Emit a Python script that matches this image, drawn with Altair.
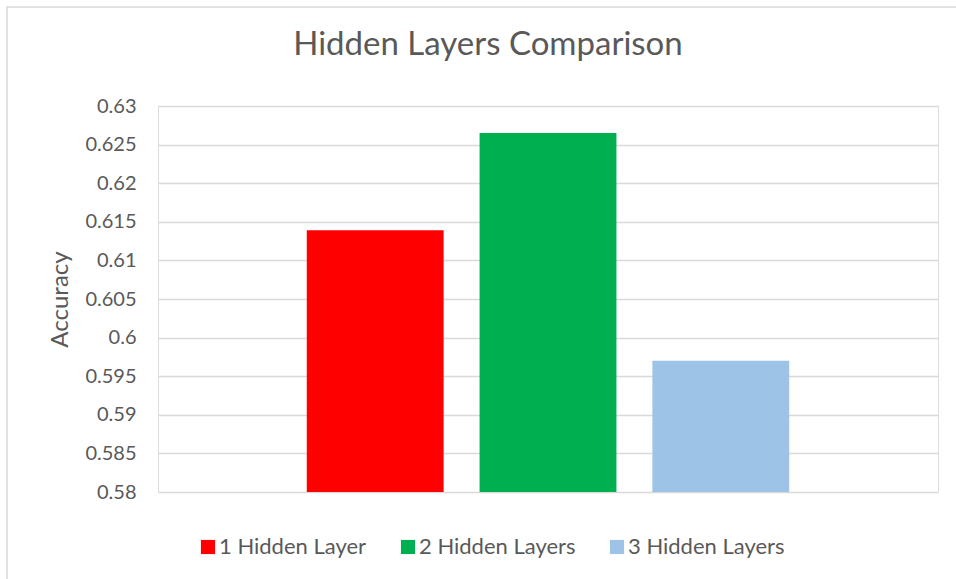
import altair as alt
import pandas as pd

series = ["1 Hidden Layer", "2 Hidden Layers", "3 Hidden Layers"]
accuracy = [0.6139, 0.6265, 0.5970]
colors = ["#FF0000", "#00B050", "#9DC3E6"]
y_ticks = [0.58, 0.585, 0.59, 0.595, 0.6, 0.605, 0.61, 0.615, 0.62, 0.625, 0.63]
title_text = "Hidden Layers Comparison"

df = pd.DataFrame({"Series": series, "Accuracy": accuracy})

FONT = "Lato"
TXT = "#595959"

bars = alt.Chart(df).mark_bar().encode(
    x=alt.X("Series:N", sort=series, axis=None,
            scale=alt.Scale(paddingInner=0.208, paddingOuter=0.861)),
    y=alt.Y("Accuracy:Q",
            scale=alt.Scale(domain=[0.58, 0.63], zero=False, nice=False, clamp=True),
            axis=alt.Axis(values=y_ticks, title="Accuracy", grid=True, gridColor="#D9D9D9",
                          gridWidth=1.3, domain=False, ticks=False, labelFont=FONT,
                          labelFontSize=20, labelColor=TXT, labelPadding=22,
                          titleFont=FONT, titleFontSize=24, titleColor=TXT,
                          titleFontWeight="normal", titlePadding=12,
                          labelExpr="format(datum.value, '.3~f')")),
    color=alt.Color("Series:N", sort=series,
                    scale=alt.Scale(domain=series, range=colors),
                    legend=alt.Legend(title=None, orient="none", direction="horizontal",
                                      legendX=39, legendY=430, symbolType="square",
                                      symbolSize=200, symbolStrokeWidth=0,
                                      labelFont=FONT, labelFontSize=22, labelColor=TXT,
                                      columnPadding=30, labelOffset=0)),
)

border = alt.Chart(alt.Data(values=[{}])).mark_rect(
    fill=None, stroke="#D9D9D9", strokeWidth=1.5
).encode(x=alt.value(-151), y=alt.value(-99), x2=alt.value(830), y2=alt.value(500))

title = alt.Chart(alt.Data(values=[{"t": title_text}])).mark_text(
    font=FONT, fontSize=33, color=TXT, align="center", baseline="alphabetic"
).encode(text="t:N", x=alt.value(330), y=alt.value(-51))

chart = alt.layer(border, bars, title).properties(
    width=780, height=386,
    autosize=alt.AutoSizeParams(type="none"),
    padding={"left": 158, "top": 106, "right": 18, "bottom": 87},
).configure_view(stroke=None).configure(background="white")

chart.save("out.html", embed_options={"renderer": "svg", "actions": False})
